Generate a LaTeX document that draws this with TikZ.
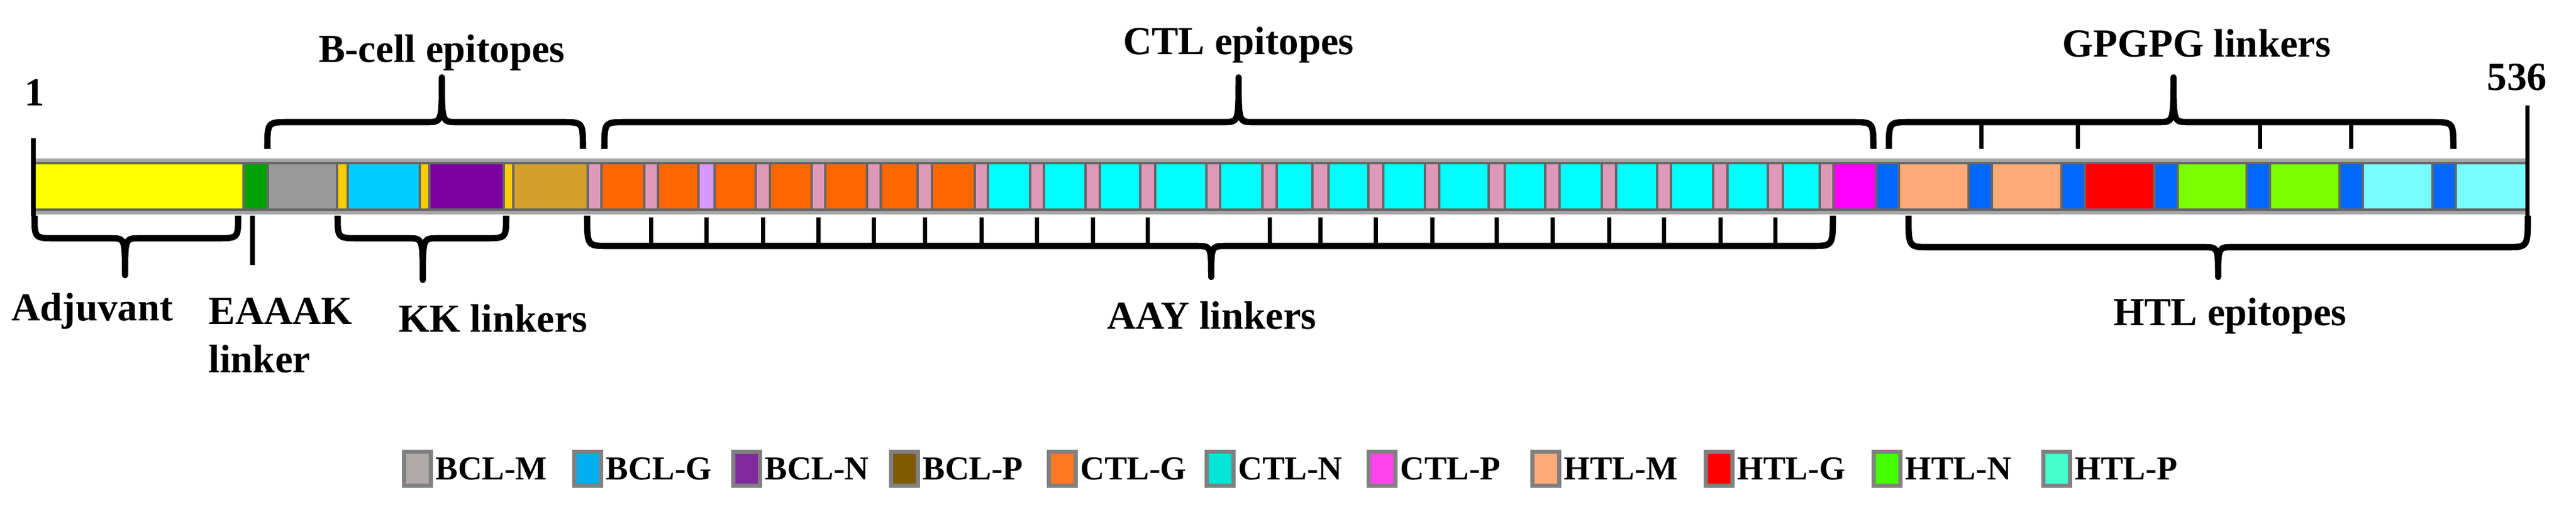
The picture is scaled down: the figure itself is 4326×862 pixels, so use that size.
\documentclass[tikz,border=0pt]{standalone}
\usepackage{fontspec}
\setmainfont{Liberation Serif}
\usetikzlibrary{positioning}

\definecolor{adj}{HTML}{FFFF00}
\definecolor{eaaak}{HTML}{00A000}
\definecolor{kk}{HTML}{FFCC00}
\definecolor{aay}{HTML}{DF99B8}
\definecolor{lilac}{HTML}{D699FF}
\definecolor{gp}{HTML}{0066FF}
\definecolor{bclm}{HTML}{999999}
\definecolor{bclg}{HTML}{00CCFF}
\definecolor{bcln}{HTML}{7A00A0}
\definecolor{bclp}{HTML}{D4A02A}
\definecolor{ctlg}{HTML}{FF6600}
\definecolor{ctln}{HTML}{00FFFF}
\definecolor{ctlp}{HTML}{FF00FF}
\definecolor{htlm}{HTML}{FFAA77}
\definecolor{htlg}{HTML}{FF0000}
\definecolor{htln}{HTML}{77FF00}
\definecolor{htlp}{HTML}{77FFFF}
% legend colours
\definecolor{lbclm}{HTML}{AFAAA8}
\definecolor{lbclg}{HTML}{00AEEF}
\definecolor{lbcln}{HTML}{7F2B9E}
\definecolor{lbclp}{HTML}{7F5A00}
\definecolor{lctlg}{HTML}{FF7722}
\definecolor{lctln}{HTML}{00E5D8}
\definecolor{lctlp}{HTML}{FF44EE}
\definecolor{lhtlm}{HTML}{FFAA77}
\definecolor{lhtlg}{HTML}{FF0000}
\definecolor{lhtln}{HTML}{44FF00}
\definecolor{lhtlp}{HTML}{44FFCC}

\tikzset{
  seg/.style={draw=black!60, line width=1pt},
  brc/.style={line width=3pt, line join=round},
  tck/.style={line width=2pt},
  lbl/.style={font=\fontsize{19}{21}\selectfont\bfseries, inner sep=0pt},
  key/.style={draw=gray, line width=2pt, minimum width=13pt, minimum height=16pt, inner sep=0pt},
  keytxt/.style={font=\fontsize{16}{18}\selectfont\bfseries, inner sep=0pt, anchor=west}
}
% brace opening towards the bar: #1 left, #2 tip, #3 right, #4 end y, #5 line y, #6 tip y
\newcommand{\brc}[6]{%
  \draw[brc] (#1,#4) .. controls (#1,#5) .. ({#1+35},#5) -- ({#2-25},#5)
    .. controls (#2,#5) .. (#2,#6)
    .. controls (#2,#5) .. ({#2+25},#5) -- ({#3-35},#5)
    .. controls (#3,#5) .. (#3,#4);}

\begin{document}
\begin{tikzpicture}[x=0.1mm,y=-0.1mm]
\useasboundingbox (0,0) rectangle (4326,862);

%bar
\fill[black!35] (56,266) rectangle (4244,360);
\foreach \a/\b/\c in {56/409/adj, 409/450/eaaak, 450/566/bclm, 566/584/kk,
  584/705/bclg, 705/721/kk, 721/846/bcln, 846/862/kk, 862/987/bclp,
  987/1010/aay, 1010/1082/ctlg, 1082/1105/aay, 1105/1173/ctlg, 1173/1200/lilac,
  1200/1269/ctlg, 1269/1293/aay, 1293/1363/ctlg, 1363/1386/aay, 1386/1456/ctlg,
  1456/1479/aay, 1479/1541/ctlg, 1541/1565/aay, 1565/1637/ctlg, 1637/1659/aay,
  1659/1730/ctln, 1730/1753/aay, 1753/1823/ctln, 1823/1847/aay, 1847/1915/ctln,
  1915/1940/aay, 1940/2026/ctln, 2026/2049/aay, 2049/2120/ctln, 2120/2144/aay,
  2144/2204/ctln, 2204/2231/aay, 2231/2298/ctln, 2298/2323/aay, 2323/2393/ctln,
  2393/2417/aay, 2417/2500/ctln, 2500/2527/aay, 2527/2595/ctln, 2595/2619/aay,
  2619/2690/ctln, 2690/2714/aay, 2714/2783/ctln, 2783/2806/aay, 2806/2877/ctln,
  2877/2901/aay, 2901/2969/ctln, 2969/2994/aay, 2994/3056/ctln, 3056/3079/aay,
  3079/3151/ctlp, 3151/3189/gp, 3189/3306/htlm, 3306/3345/gp, 3345/3462/htlm,
  3462/3501/gp, 3501/3618/htlg, 3618/3657/gp, 3657/3773/htln, 3773/3812/gp,
  3812/3929/htln, 3929/3968/gp, 3968/4085/htlp, 4085/4124/gp, 4124/4244/htlp}
  \filldraw[seg, fill=\c] (\a,274) rectangle (\b,352);

%ends
\node[lbl] (first) at (58,155) {1};
\node[lbl] (last) at (4227,130) {536};
\draw[line width=2pt] (56,232) -- (56,362);
\draw[line width=2pt] (4244,177) -- (4244,362);

%top braces
\brc{449}{742}{979}{250}{205}{130}
\brc{1015}{2080}{3146}{250}{205}{130}
\brc{3172}{3650}{4120}{250}{205}{130}
\foreach \x in {3327,3489,3795,3948} \draw[tck] (\x,205) -- (\x,250);
\node[lbl] (bcell) at (742,88) {B-cell epitopes};
\node[lbl] (ctl) at (2080,75) {CTL epitopes};
\node[lbl] (gpgpg) at (3689,73) {GPGPG linkers};

%bottom braces
\brc{58}{210}{400}{362}{400}{462}
\brc{567}{710}{850}{362}{400}{470}
\brc{986}{2034}{3078}{362}{413}{465}
\brc{3205}{3725}{4245}{362}{415}{465}
\draw[line width=2pt] (424,362) -- (424,445);
\foreach \x in {1093,1186,1281,1374,1467,1553,1648,1741,1835,1927,
  2132,2217,2310,2405,2513,2607,2702,2794,2889,2981}
  \draw[tck] (\x,365) -- (\x,413);
\node[lbl] (adjv) at (155,522) {Adjuvant};
\node[lbl, align=left, anchor=north west] (eaaak) at (350,500) {EAAAK\\[2pt]linker};
\node[lbl] (kkl) at (828,535) {KK linkers};
\node[lbl] (aayl) at (2035,530) {AAY linkers};
\node[lbl] (htl) at (3745,530) {HTL epitopes};

%legend
\foreach \x/\c/\t in {701/lbclm/BCL-M, 987/lbclg/BCL-G, 1254/lbcln/BCL-N,
  1519/lbclp/BCL-P, 1784/lctlg/CTL-G, 2049/lctln/CTL-N, 2321/lctlp/CTL-P,
  2596/lhtlm/HTL-M, 2887/lhtlg/HTL-G, 3169/lhtln/HTL-N, 3454/lhtlp/HTL-P}
  \node[key, fill=\c] (k\t) at (\x,787) {} node[keytxt] at ([xshift=1pt]k\t.east) {\t};
\end{tikzpicture}
\end{document}
